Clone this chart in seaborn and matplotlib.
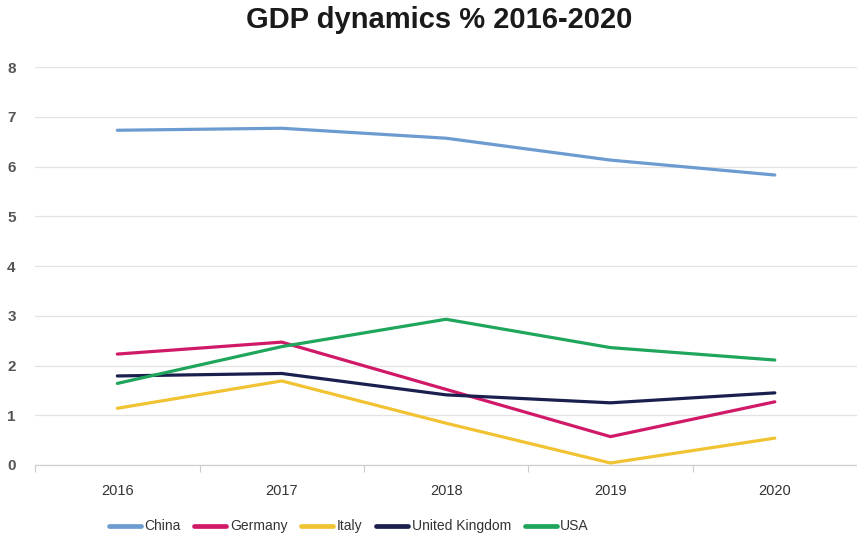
import matplotlib
matplotlib.use("Agg")
import matplotlib.pyplot as plt
import seaborn as sns
import pandas as pd
import numpy as np

years = ["2016", "2017", "2018", "2019", "2020"]
china = [6.73, 6.77, 6.57, 6.13, 5.83]
germany = [2.23, 2.47, 1.52, 0.57, 1.27]
italy = [1.14, 1.69, 0.84, 0.04, 0.54]
united_kingdom = [1.79, 1.84, 1.41, 1.25, 1.45]
usa = [1.64, 2.38, 2.93, 2.36, 2.11]
countries = ["China", "Germany", "Italy", "United Kingdom", "USA"]
colors = ["#6c9bd2", "#d01a68", "#f1c232", "#1a1f4e", "#1fa65c"]

series = [china, germany, italy, united_kingdom, usa]
df = pd.DataFrame({
    "year": np.tile(np.arange(len(years)), len(countries)),
    "gdp": np.concatenate(series),
    "country": np.repeat(countries, len(years)),
})

sns.set_theme(style="white")
plt.rcParams["font.family"] = ["Liberation Sans", "DejaVu Sans"]

fig = plt.figure(figsize=(8.57, 5.41), dpi=100)
ax = fig.add_axes([0.041, 0.1405, 0.959, 0.7355])

sns.lineplot(data=df, x="year", y="gdp", hue="country", hue_order=countries,
             palette=colors, linewidth=2.3, ax=ax, legend=False)

ax.set_xlim(-0.5, len(years) - 0.5)
ax.set_ylim(0, 8)
ax.set_yticks(range(0, 9))
ax.set_yticklabels([str(v) for v in range(0, 9)], fontsize=11,
                   color="#555555", fontweight="bold")
ax.set_xticks(range(len(years)))
ax.set_xticklabels(years, fontsize=10.5, color="#333333")
ax.tick_params(axis="x", which="major", length=0, pad=14)
ax.tick_params(axis="y", length=0, pad=14)
# boundary tick marks between categories
ax.set_xticks(np.arange(-0.5, len(years) - 0.4, 1.0), minor=True)
ax.tick_params(axis="x", which="minor", bottom=True, length=5,
               color="#cccccc", width=0.8)

ax.grid(axis="y", color="#e3e3e3", linewidth=0.9)
ax.grid(axis="x", visible=False)
for s in ["top", "right", "left"]:
    ax.spines[s].set_visible(False)
ax.spines["bottom"].set_color("#d0d0d0")
ax.spines["bottom"].set_linewidth(0.9)
ax.set_xlabel("")
ax.set_ylabel("")

fig.text(0.513, 0.963, "GDP dynamics % 2016-2020", ha="center", va="center",
         fontsize=21, fontweight="bold", color="#1a1a1a")

handles = [plt.Line2D([0], [0], color=c, linewidth=3.4) for c in colors]
fig.legend(handles, countries, loc="center", bbox_to_anchor=(0.407, 0.027),
           ncol=5, frameon=False, handlelength=2.3,
           handletextpad=0.25, columnspacing=1.0, labelcolor="#333333",
           prop={"family": "Liberation Sans", "size": 10})

fig.savefig("out.png", dpi=100)
